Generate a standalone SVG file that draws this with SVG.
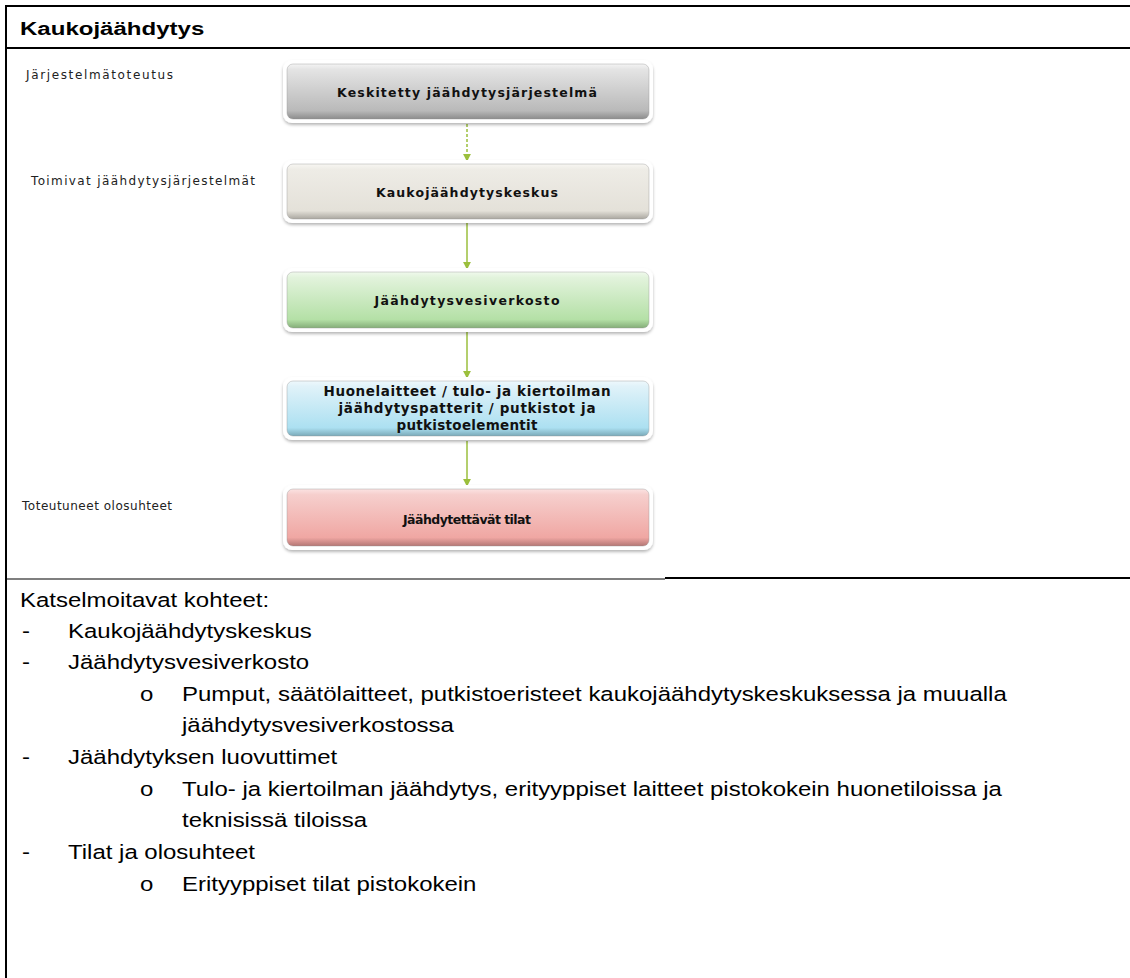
<svg xmlns="http://www.w3.org/2000/svg" width="1130" height="978" viewBox="0 0 1130 978">
  <style>
    .frame { stroke: #000; fill: none; }
    .title { font-family: "Liberation Sans", Arial, sans-serif; font-weight: bold; font-size: 18.5px; fill: #000; }
    .side { font-family: "DejaVu Sans", Verdana, sans-serif; font-size: 12px; fill: #222; }
    .lbl { font-family: "DejaVu Sans", Verdana, sans-serif; font-weight: bold; font-size: 12.5px; fill: #111; text-anchor: middle; }
    .lbl2 { font-family: "DejaVu Sans", Verdana, sans-serif; font-weight: bold; font-size: 13.5px; fill: #111; text-anchor: middle; }
    .body { font-family: "Liberation Sans", Arial, sans-serif; font-size: 20.5px; fill: #000; }
    .rim { fill: #fff; filter: url(#soft); }
    .edge { stroke: #999; stroke-opacity: 0.5; stroke-width: 0.8; }
    .conn { stroke: #9bbf3c; stroke-width: 1.5; fill: none; marker-end: url(#head); }
  </style>
  <defs>
    <filter id="soft" x="-10%" y="-20%" width="120%" height="150%">
      <feGaussianBlur in="SourceAlpha" stdDeviation="1.6"/>
      <feOffset dy="1.5" result="b"/>
      <feFlood flood-color="#000" flood-opacity="0.28"/>
      <feComposite in2="b" operator="in"/>
      <feMerge><feMergeNode/><feMergeNode in="SourceGraphic"/></feMerge>
    </filter>
    <linearGradient id="gGray" x1="0" y1="0" x2="0" y2="1">
      <stop offset="0" stop-color="#f4f4f4"/>
      <stop offset="0.1" stop-color="#e4e4e4"/>
      <stop offset="0.85" stop-color="#b9b9b9"/>
      <stop offset="1" stop-color="#8c8c8c"/>
    </linearGradient>
    <linearGradient id="gBeige" x1="0" y1="0" x2="0" y2="1">
      <stop offset="0" stop-color="#f7f6f2"/>
      <stop offset="0.1" stop-color="#eeece6"/>
      <stop offset="0.85" stop-color="#e4e1d9"/>
      <stop offset="1" stop-color="#aaa7a0"/>
    </linearGradient>
    <linearGradient id="gGreen" x1="0" y1="0" x2="0" y2="1">
      <stop offset="0" stop-color="#f0f9ec"/>
      <stop offset="0.1" stop-color="#e2f3dc"/>
      <stop offset="0.85" stop-color="#b4e0a6"/>
      <stop offset="1" stop-color="#84ad78"/>
    </linearGradient>
    <linearGradient id="gBlue" x1="0" y1="0" x2="0" y2="1">
      <stop offset="0" stop-color="#eef8fc"/>
      <stop offset="0.1" stop-color="#e0f2f9"/>
      <stop offset="0.85" stop-color="#ace0f1"/>
      <stop offset="1" stop-color="#7aaab9"/>
    </linearGradient>
    <linearGradient id="gPink" x1="0" y1="0" x2="0" y2="1">
      <stop offset="0" stop-color="#fbe3e2"/>
      <stop offset="0.1" stop-color="#f6cfcd"/>
      <stop offset="0.85" stop-color="#f0a7a3"/>
      <stop offset="1" stop-color="#b47774"/>
    </linearGradient>
    <marker id="head" viewBox="0 0 10 10" refX="9" refY="5" markerWidth="5.5" markerHeight="5.5" orient="auto" markerUnits="strokeWidth">
      <path d="M0,0 L10,5 L0,10 Z" fill="#9bbf3c"/>
    </marker>
  </defs>

  <rect width="1130" height="978" fill="#fff"/>

  <!-- table frame -->
  <g id="frame" class="frame">
    <line x1="5" y1="6" x2="1130" y2="6" stroke-width="2"/>
    <line x1="6" y1="5" x2="6" y2="978" stroke-width="2"/>
    <line x1="5" y1="48" x2="1130" y2="48" stroke-width="2"/>
    <line x1="5" y1="579" x2="665" y2="579" stroke-width="1.2"/>
    <line x1="665" y1="578" x2="1130" y2="578" stroke-width="2"/>
  </g>

  <!-- header, set in a widened bold face -->
  <g transform="scale(1.3 1)">
    <text class="title" x="15.38" y="35">Kaukojäähdytys</text>
  </g>

  <!-- inspection list, slightly widened -->
  <g id="list" transform="scale(1.17 1)">
    <text class="body" x="17.09" y="607">Katselmoitavat kohteet:</text>
    <text class="body" x="18.8" y="638">-</text>
    <text class="body" x="58.12" y="638">Kaukojäähdytyskeskus</text>
    <text class="body" x="18.8" y="669">-</text>
    <text class="body" x="58.12" y="669">Jäähdytysvesiverkosto</text>
    <text class="body" x="119.66" y="701">o</text>
    <text class="body" x="155.56" y="701">Pumput, säätölaitteet, putkistoeristeet kaukojäähdytyskeskuksessa ja muualla</text>
    <text class="body" x="155.56" y="732">jäähdytysvesiverkostossa</text>
    <text class="body" x="18.8" y="764">-</text>
    <text class="body" x="58.12" y="764">Jäähdytyksen luovuttimet</text>
    <text class="body" x="119.66" y="796">o</text>
    <text class="body" x="155.56" y="796">Tulo- ja kiertoilman jäähdytys, erityyppiset laitteet pistokokein huonetiloissa ja</text>
    <text class="body" x="155.56" y="827">teknisissä tiloissa</text>
    <text class="body" x="18.8" y="859">-</text>
    <text class="body" x="58.12" y="859">Tilat ja olosuhteet</text>
    <text class="body" x="119.66" y="891">o</text>
    <text class="body" x="155.56" y="891">Erityyppiset tilat pistokokein</text>
  </g>

  <!-- row labels -->
  <g id="side-labels">
    <text class="side" x="26" y="79" textLength="147" lengthAdjust="spacing">Järjestelmätoteutus</text>
    <text class="side" x="31" y="185" textLength="224" lengthAdjust="spacing">Toimivat jäähdytysjärjestelmät</text>
    <text class="side" x="22" y="510" textLength="150" lengthAdjust="spacing">Toteutuneet olosuhteet</text>
  </g>

  <!-- connectors -->
  <g id="connectors">
    <line class="conn" x1="467" y1="124" x2="467" y2="161" stroke-dasharray="3 2"/>
    <line class="conn" x1="467" y1="223" x2="467" y2="269"/>
    <line class="conn" x1="467" y1="332" x2="467" y2="378"/>
    <line class="conn" x1="467" y1="441" x2="467" y2="486"/>
  </g>

  <g id="node-keskitetty">
    <rect class="rim" x="283" y="60" width="370" height="63" rx="9"/>
    <rect class="edge" x="287" y="64" width="362" height="55" rx="6" fill="url(#gGray)"/>
    <text class="lbl" x="467" y="97" textLength="260" lengthAdjust="spacing">Keskitetty jäähdytysjärjestelmä</text>
  </g>

  <g id="node-keskus">
    <rect class="rim" x="283" y="160" width="370" height="63" rx="9"/>
    <rect class="edge" x="287" y="164" width="362" height="55" rx="6" fill="url(#gBeige)"/>
    <text class="lbl" x="467" y="197" textLength="182" lengthAdjust="spacing">Kaukojäähdytyskeskus</text>
  </g>

  <g id="node-verkosto">
    <rect class="rim" x="283" y="268" width="370" height="64" rx="9"/>
    <rect class="edge" x="287" y="272" width="362" height="56" rx="6" fill="url(#gGreen)"/>
    <text class="lbl" x="467" y="305" textLength="185" lengthAdjust="spacing">Jäähdytysvesiverkosto</text>
  </g>

  <g id="node-laitteet">
    <rect class="rim" x="283" y="377" width="370" height="63" rx="9"/>
    <rect class="edge" x="287" y="381" width="362" height="55" rx="6" fill="url(#gBlue)"/>
    <text class="lbl2" x="467" y="396" textLength="287" lengthAdjust="spacing">Huonelaitteet / tulo- ja kiertoilman</text>
    <text class="lbl2" x="467" y="413" textLength="257" lengthAdjust="spacing">jäähdytyspatterit / putkistot ja</text>
    <text class="lbl2" x="467" y="430" textLength="141" lengthAdjust="spacing">putkistoelementit</text>
  </g>

  <g id="node-tilat">
    <rect class="rim" x="283" y="485" width="370" height="65" rx="9"/>
    <rect class="edge" x="287" y="489" width="362" height="57" rx="6" fill="url(#gPink)"/>
    <text class="lbl" x="467" y="524" textLength="128" lengthAdjust="spacing">Jäähdytettävät tilat</text>
  </g>
</svg>
